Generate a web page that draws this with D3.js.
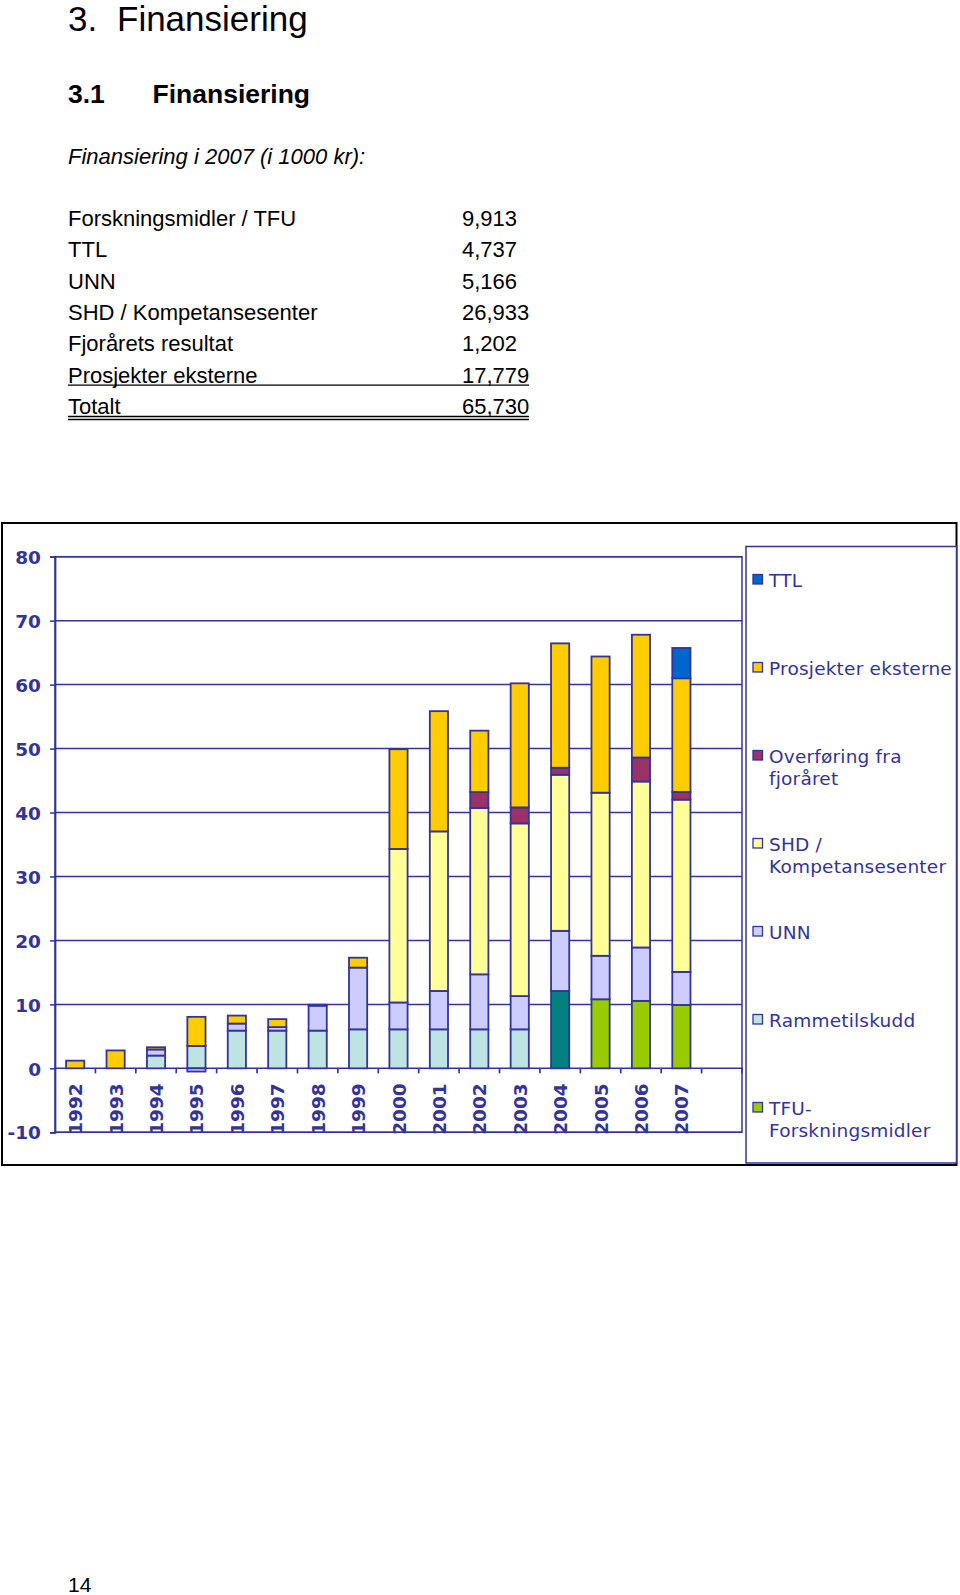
<!DOCTYPE html>
<html>
<head>
<meta charset="utf-8">
<script src="https://cdn.jsdelivr.net/npm/d3@7"></script>
<style>
  html, body { margin: 0; padding: 0; background: #fff; }
  svg { display: block; }
</style>
</head>
<body>
<svg id="page" width="960" height="1595"></svg>
<script>
// ---------- data ----------
const tableLabels = ["Forskningsmidler / TFU", "TTL", "UNN", "SHD / Kompetansesenter", "Fjorårets resultat", "Prosjekter eksterne", "Totalt"];
const tableValues = ["9,913", "4,737", "5,166", "26,933", "1,202", "17,779", "65,730"];

const years = ["1992","1993","1994","1995","1996","1997","1998","1999","2000","2001","2002","2003","2004","2005","2006","2007"];
const slots = years.concat([""]);   // empty category after 2007
const yTicks = [-10, 0, 10, 20, 30, 40, 50, 60, 70, 80];

const seriesKeys = ["TFU", "Ramme", "UNN", "SHD", "Overf", "Prosj", "TTL"];
const seriesNames = ["TFU-\nForskningsmidler", "Rammetilskudd", "UNN", "SHD /\nKompetansesenter", "Overføring fra\nfjoråret", "Prosjekter eksterne", "TTL"];

const tfu    = [0, 0, 0, 0, 0, 0, 0, 0, 0, 0, 0, 0, 12.1, 10.8, 10.55, 9.913];
const ramme  = [0, 0, 2.0, 3.5, 5.9, 5.9, 5.9, 6.1, 6.1, 6.1, 6.1, 6.1, 0, 0, 0, 0];
const unn    = [0, 0, 0.95, -0.5, 1.1, 0.55, 3.9, 9.65, 4.2, 6.0, 8.6, 5.2, 9.4, 6.8, 8.35, 5.166];
const shd    = [0, 0, 0, 0, 0, 0, 0, 0, 24.0, 24.95, 26.0, 27.0, 24.4, 25.5, 25.95, 26.933];
const overf  = [0, 0, 0, 0, 0, 0, 0, 0, 0, 0, 2.5, 2.5, 1.1, 0, 3.75, 1.202];
const prosj  = [1.2, 2.8, 0.35, 4.55, 1.25, 1.25, 0.15, 1.55, 15.6, 18.8, 9.6, 19.4, 19.45, 21.3, 19.2, 17.779];
const ttl    = [0, 0, 0, 0, 0, 0, 0, 0, 0, 0, 0, 0, 0, 0, 0, 4.737];

// ---------- styling ----------
const NAVY = "#333399";
const colors = {
  TFU: "#99CC00", Ramme: "#BDE3E3", UNN: "#CCCCFF", SHD: "#FFFF99",
  Overf: "#993366", Prosj: "#FFCC00", TTL: "#0066CC"
};
const tfuSpecial = { "2004": "#008080" };

const svg = d3.select("#page");

// ---------- text part ----------
const txt = svg.append("g").attr("font-family", "'Liberation Sans', Arial, sans-serif").attr("fill", "#000");
txt.append("text").attr("x", 68).attr("y", 31).attr("font-size", 35).text("3.");
txt.append("text").attr("x", 117).attr("y", 31).attr("font-size", 35).text("Finansiering");
txt.append("text").attr("x", 68).attr("y", 103).attr("font-size", 26.5).attr("font-weight", "bold").text("3.1");
txt.append("text").attr("x", 152.5).attr("y", 103).attr("font-size", 26.5).attr("font-weight", "bold").text("Finansiering");
txt.append("text").attr("x", 68).attr("y", 164).attr("font-size", 22).attr("font-style", "italic").text("Finansiering i 2007 (i 1000 kr):");

const rowY = d3.scaleLinear().domain([0, 6]).range([226, 414]);
tableLabels.forEach((lab, i) => {
  txt.append("text").attr("x", 68).attr("y", rowY(i)).attr("font-size", 22).text(lab);
  txt.append("text").attr("x", 462).attr("y", rowY(i)).attr("font-size", 22).text(tableValues[i]);
});
// underlines
txt.append("line").attr("x1", 68).attr("x2", 529).attr("y1", rowY(5) + 2.5).attr("y2", rowY(5) + 2.5).attr("stroke", "#000").attr("stroke-width", 1.3);
txt.append("line").attr("x1", 68).attr("x2", 529).attr("y1", rowY(6) + 2.5).attr("y2", rowY(6) + 2.5).attr("stroke", "#000").attr("stroke-width", 1.3);
txt.append("line").attr("x1", 68).attr("x2", 529).attr("y1", rowY(6) + 5.5).attr("y2", rowY(6) + 5.5).attr("stroke", "#000").attr("stroke-width", 1.3);
txt.append("text").attr("x", 68).attr("y", 1592).attr("font-size", 21).text("14");

// ---------- chart ----------
const plot = { left: 55, right: 742, top: 556.7, bottom: 1132.3 };
svg.append("rect").attr("x", 2).attr("y", 523).attr("width", 954.5).attr("height", 642)
  .attr("fill", "none").attr("stroke", "#000").attr("stroke-width", 2);

const x = d3.scaleBand().domain(slots).range([plot.left, plot.right]).paddingInner(0.55).paddingOuter(0.275);
const y = d3.scaleLinear().domain([-10, 80]).range([plot.bottom, plot.top]);

const chart = svg.append("g").attr("font-family", "'DejaVu Sans', Verdana, sans-serif");

// gridlines
chart.append("g").selectAll("line").data(yTicks).join("line")
  .attr("x1", plot.left).attr("x2", plot.right)
  .attr("y1", d => y(d)).attr("y2", d => y(d))
  .attr("stroke", NAVY).attr("stroke-width", 1.5);

// plot border
chart.append("rect").attr("x", plot.left).attr("y", y(80)).attr("width", plot.right - plot.left)
  .attr("height", y(-10) - y(80)).attr("fill", "none").attr("stroke", NAVY).attr("stroke-width", 1.5);

// y axis
const yAxis = d3.axisLeft(y).tickValues(yTicks).tickSize(5).tickPadding(9).tickFormat(d => String(d));
const ya = chart.append("g").attr("transform", `translate(${plot.left},0)`).call(yAxis);
ya.select(".domain").attr("stroke", NAVY).attr("stroke-width", 1.7);
ya.selectAll(".tick line").attr("stroke", NAVY).attr("stroke-width", 1.5);
ya.selectAll(".tick text").attr("fill", NAVY).attr("font-size", 18.5).attr("font-weight", "bold")
  .attr("font-family", "'DejaVu Sans', Verdana, sans-serif").attr("dy", "0.36em");

// x axis ticks at slot boundaries (on the zero line)
const step = x.step();
chart.append("g").selectAll("line").data(slots).join("line")
  .attr("x1", d => x(d) + x.bandwidth() / 2 + step / 2)
  .attr("x2", d => x(d) + x.bandwidth() / 2 + step / 2)
  .attr("y1", y(0)).attr("y2", y(0) + 5)
  .attr("stroke", NAVY).attr("stroke-width", 1.7);

// stacked bars
const rows = years.map((yr, i) => ({
  year: yr, TFU: tfu[i], Ramme: ramme[i], UNN: unn[i], SHD: shd[i], Overf: overf[i], Prosj: prosj[i], TTL: ttl[i]
}));
const stack = d3.stack().keys(seriesKeys).offset(d3.stackOffsetDiverging);
const stacked = stack(rows);

const barG = chart.append("g");
stacked.forEach(layer => {
  barG.append("g").selectAll("rect")
    .data(layer.filter(d => Math.abs(d[1] - d[0]) > 1e-9))
    .join("rect")
    .attr("x", d => x(d.data.year))
    .attr("width", x.bandwidth())
    .attr("y", d => y(Math.max(d[0], d[1])))
    .attr("height", d => Math.abs(y(d[0]) - y(d[1])))
    .attr("fill", d => (layer.key === "TFU" && tfuSpecial[d.data.year]) ? tfuSpecial[d.data.year] : colors[layer.key])
    .attr("stroke", NAVY).attr("stroke-width", 1.8);
});

// x labels (rotated)
chart.append("g").selectAll("text").data(years).join("text")
  .attr("transform", d => `translate(${x(d) + x.bandwidth() / 2 + 7},${y(0) + 15}) rotate(-90)`)
  .attr("text-anchor", "end")
  .attr("fill", NAVY).attr("font-size", 18.5).attr("font-weight", "bold")
  .text(d => d);

// legend
const legend = { left: 746, top: 546.5, right: 956.5, bottom: 1163 };
chart.append("rect").attr("x", legend.left).attr("y", legend.top)
  .attr("width", legend.right - legend.left).attr("height", legend.bottom - legend.top)
  .attr("fill", "#fff").attr("stroke", NAVY).attr("stroke-width", 1.5);

const legendOrder = seriesKeys.slice().reverse();
const legY = d3.scaleLinear().domain([0, 6]).range([587, 1115]);
svg.append("clipPath").attr("id", "legclip").append("rect")
  .attr("x", legend.left).attr("y", legend.top).attr("width", legend.right - legend.left - 1).attr("height", legend.bottom - legend.top);
const lg = chart.append("g").attr("clip-path", "url(#legclip)");
legendOrder.forEach((k, i) => {
  const by = legY(i);
  lg.append("rect").attr("x", 753).attr("y", by - 12.5).attr("width", 9.5).attr("height", 9.5)
    .attr("fill", colors[k]).attr("stroke", NAVY).attr("stroke-width", 1.3);
  const lines = seriesNames[seriesKeys.indexOf(k)].split("\n");
  const t = lg.append("text").attr("x", 769).attr("y", by).attr("fill", NAVY)
    .attr("font-size", 18.5).attr("letter-spacing", 0.2);
  lines.forEach((ln, j) => {
    t.append("tspan").attr("x", 769).attr("y", by + j * 21.5).text(ln);
  });
});
</script>
</body>
</html>
